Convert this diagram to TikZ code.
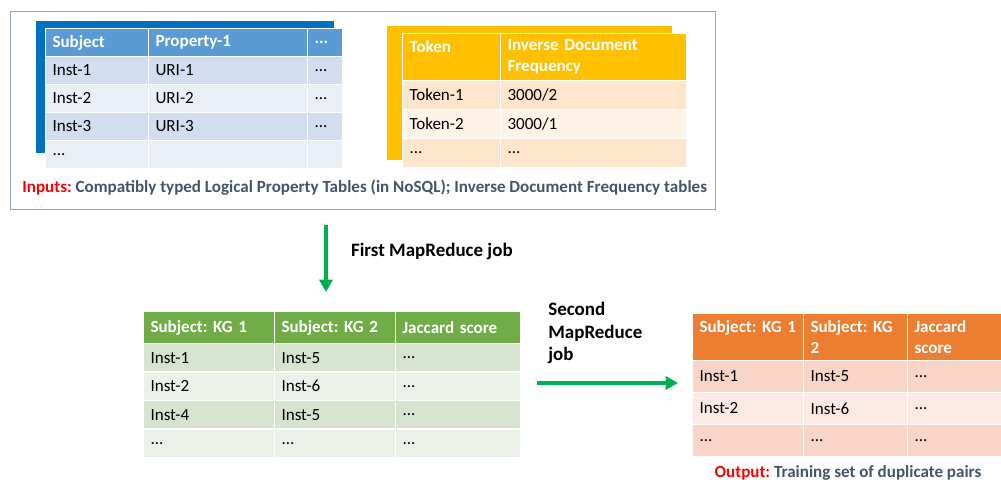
\documentclass[tikz,border=0pt]{standalone}
\usepackage{fontspec}
\setmainfont{Carlito}
\usepackage{xcolor}
\usepackage{tikz}
\usetikzlibrary{arrows.meta,positioning}
\frenchspacing

\definecolor{frameblue}{HTML}{8EA7C4}
\definecolor{blueshade}{HTML}{0070C0}
\definecolor{bluehead}{HTML}{5B9BD5}
\definecolor{blueodd}{HTML}{D2DEEF}
\definecolor{blueeven}{HTML}{EAEFF7}
\definecolor{goldhead}{HTML}{FFC000}
\definecolor{goldodd}{HTML}{FEE6CD}
\definecolor{goldeven}{HTML}{FFF2E6}
\definecolor{greenhead}{HTML}{70AD47}
\definecolor{greenodd}{HTML}{D5E3CF}
\definecolor{greeneven}{HTML}{EBF1E9}
\definecolor{orangehead}{HTML}{ED7D31}
\definecolor{orangeodd}{HTML}{F8D5C6}
\definecolor{orangeeven}{HTML}{FBEAE4}
\definecolor{jobgreen}{HTML}{00B050}
\definecolor{capgray}{HTML}{44546A}
\definecolor{capred}{HTML}{FF0000}

\newcommand{\more}{.\kern0pt.\kern0pt.}

\tikzset{
    cell/.style={rectangle, draw=white, line width=0.6pt, anchor=north west, align=left, inner xsep=0.14cm, inner ysep=0pt, font=\fontsize{9.7}{12}\selectfont},
    head/.style={cell, text=white, font=\fontsize{9.7}{12}\selectfont\bfseries},
    bhead/.style={head, fill=bluehead, minimum height=0.56cm},
    brow1/.style={cell, fill=blueodd, minimum height=0.56cm},
    brow2/.style={cell, fill=blueeven, minimum height=0.56cm},
    yhead/.style={head, fill=goldhead, minimum height=0.94cm},
    yrow1/.style={cell, fill=goldodd, minimum height=0.58cm},
    yrow2/.style={cell, fill=goldeven, minimum height=0.58cm},
    ghead/.style={head, fill=greenhead, minimum height=0.64cm},
    grow1/.style={cell, fill=greenodd, minimum height=0.57cm},
    grow2/.style={cell, fill=greeneven, minimum height=0.57cm},
    ohead/.style={head, fill=orangehead, minimum height=0.94cm},
    orow1/.style={cell, fill=orangeodd, minimum height=0.64cm},
    orow2/.style={cell, fill=orangeeven, minimum height=0.64cm},
    shade/.style={rectangle, anchor=north west, inner sep=0},
    frame/.style={rectangle, draw=frameblue, line width=0.6pt, anchor=north west, inner sep=0},
    job/.style={-{Triangle[length=7pt, width=7.5pt]}, line width=2.4pt, draw=jobgreen},
    jobtext/.style={align=left, inner sep=0, font=\fontsize{10.8}{13}\selectfont\bfseries},
    caption/.style={font=\fontsize{9.7}{12}\selectfont\bfseries, text=capgray, inner sep=0},
}

\begin{document}
\begin{tikzpicture}[x=0.02cm, y=-0.02cm]
    \useasboundingbox (0,0) rectangle (1001,480);

    % input frame and table shadows
    \node[frame, minimum width=14.1cm, minimum height=3.96cm] (inputs) at (10,11) {};
    \node[shade, fill=blueshade, minimum width=5.96cm, minimum height=2.64cm] (bshade) at (36,21) {};
    \node[shade, fill=goldhead, minimum width=5.70cm, minimum height=2.68cm] (yshade) at (387,26) {};

    % logical property table
    \node[bhead, text width=1.78cm] (b11) at (45,28) {Subject};
    \node[bhead, text width=2.90cm] (b12) at (148,28) {Property-1};
    \node[bhead, text width=0.42cm] (b13) at (307,28) {\more};
    \node[brow1, text width=1.78cm] (b21) at (45,56) {Inst-1};
    \node[brow1, text width=2.90cm] (b22) at (148,56) {URI-1};
    \node[brow1, text width=0.42cm] (b23) at (307,56) {\more};
    \node[brow2, text width=1.78cm] (b31) at (45,84) {Inst-2};
    \node[brow2, text width=2.90cm] (b32) at (148,84) {URI-2};
    \node[brow2, text width=0.42cm] (b33) at (307,84) {\more};
    \node[brow1, text width=1.78cm] (b41) at (45,112) {Inst-3};
    \node[brow1, text width=2.90cm] (b42) at (148,112) {URI-3};
    \node[brow1, text width=0.42cm] (b43) at (307,112) {\more};
    \node[brow2, text width=1.78cm] (b51) at (45,140) {\more};
    \node[brow2, text width=2.90cm] (b52) at (148,140) {};
    \node[brow2, text width=0.42cm] (b53) at (307,140) {};

    % inverse document frequency table
    \node[yhead, text width=1.68cm] (y11) at (402,33) {Token\\~};
    \node[yhead, text width=3.44cm] (y12) at (500,33) {Inverse Document\\Frequency};
    \node[yrow1, text width=1.68cm] (y21) at (402,80) {Token-1};
    \node[yrow1, text width=3.44cm] (y22) at (500,80) {3000/2};
    \node[yrow2, text width=1.68cm] (y31) at (402,109) {Token-2};
    \node[yrow2, text width=3.44cm] (y32) at (500,109) {3000/1};
    \node[yrow1, text width=1.68cm] (y41) at (402,138) {\more};
    \node[yrow1, text width=3.44cm] (y42) at (500,138) {\more};

    \node[caption, anchor=west] (incap) at (22,188) {\textcolor{capred}{Inputs:} Compatibly typed Logical Property Tables (in NoSQL); Inverse Document Frequency tables};

    % first job
    \coordinate (j1s) at (326,225);
    \coordinate (j1e) at (326,292);
    \draw[job] (j1s) -- node[jobtext, right=0.46cm, pos=0.4] (j1lbl) {First MapReduce job} (j1e);

    % jaccard score table
    \node[ghead, text width=2.34cm] (g11) at (143,311) {Subject: KG 1};
    \node[ghead, text width=2.14cm] (g12) at (274,311) {Subject: KG 2};
    \node[ghead, text width=2.22cm] (g13) at (395,311) {Jaccard score};
    \node[grow1, text width=2.34cm] (g21) at (143,343) {Inst-1};
    \node[grow1, text width=2.14cm] (g22) at (274,343) {Inst-5};
    \node[grow1, text width=2.22cm] (g23) at (395,343) {\more};
    \node[grow2, text width=2.34cm] (g31) at (143,371.5) {Inst-2};
    \node[grow2, text width=2.14cm] (g32) at (274,371.5) {Inst-6};
    \node[grow2, text width=2.22cm] (g33) at (395,371.5) {\more};
    \node[grow1, text width=2.34cm] (g41) at (143,400) {Inst-4};
    \node[grow1, text width=2.14cm] (g42) at (274,400) {Inst-5};
    \node[grow1, text width=2.22cm] (g43) at (395,400) {\more};
    \node[grow2, text width=2.34cm] (g51) at (143,428.5) {\more};
    \node[grow2, text width=2.14cm] (g52) at (274,428.5) {\more};
    \node[grow2, text width=2.22cm] (g53) at (395,428.5) {\more};

    % second job
    \coordinate (j2s) at (537,383);
    \coordinate (j2e) at (678,383);
    \draw[job] (j2s) -- (j2e);
    \node[jobtext, anchor=west] (j2lbl) at (548,333) {Second\\MapReduce\\job};

    % duplicate pairs table
    \node[ohead, text width=1.94cm] (o11) at (692,313) {Subject: KG 1\\~};
    \node[ohead, text width=1.80cm] (o12) at (803,313) {Subject: KG\\2};
    \node[ohead, text width=1.60cm] (o13) at (907,313) {Jaccard\\score};
    \node[orow1, text width=1.94cm] (o21) at (692,360) {Inst-1};
    \node[orow1, text width=1.80cm] (o22) at (803,360) {Inst-5};
    \node[orow1, text width=1.60cm] (o23) at (907,360) {\more};
    \node[orow2, text width=1.94cm] (o31) at (692,392) {Inst-2};
    \node[orow2, text width=1.80cm] (o32) at (803,392) {Inst-6};
    \node[orow2, text width=1.60cm] (o33) at (907,392) {\more};
    \node[orow1, text width=1.94cm] (o41) at (692,424) {\more};
    \node[orow1, text width=1.80cm] (o42) at (803,424) {\more};
    \node[orow1, text width=1.60cm] (o43) at (907,424) {\more};

    \node[caption] (outcap) at (848,473) {\textcolor{capred}{Output:} Training set of duplicate pairs};
\end{tikzpicture}
\end{document}
